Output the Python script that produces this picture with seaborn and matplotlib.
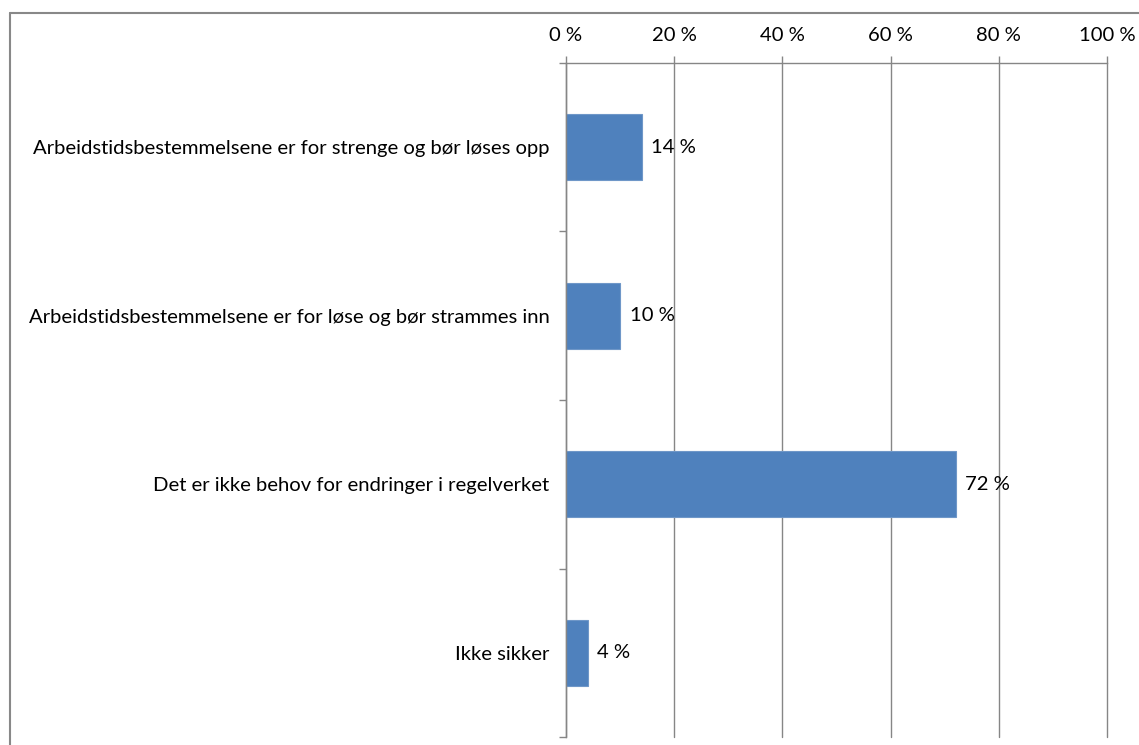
import matplotlib
matplotlib.use("Agg")
import matplotlib.pyplot as plt
import seaborn as sns
import pandas as pd
from matplotlib.lines import Line2D
from matplotlib.ticker import FixedLocator

categories = [
    "Arbeidstidsbestemmelsene er for strenge og bør løses opp",
    "Arbeidstidsbestemmelsene er for løse og bør strammes inn",
    "Det er ikke behov for endringer i regelverket",
    "Ikke sikker",
]
values = [14, 10, 72, 4]
xticks = [0, 20, 40, 60, 80, 100]
xticklabels = ["0 %", "20 %", "40 %", "60 %", "80 %", "100 %"]

sns.set_theme(style="white")
plt.rcParams['font.family'] = ['Lato', 'DejaVu Sans']
FS = 14.6

df = pd.DataFrame({"cat": categories, "val": values})

fig = plt.figure(figsize=(11.39, 7.45), dpi=100)
ax = fig.add_axes([566/1139, 1-737/745, (1107-566)/1139, (737-63)/745])

sns.barplot(data=df, y="cat", x="val", orient="h", color="#4F81BD",
            width=0.39, saturation=1, edgecolor="#6f97c8", linewidth=0.8, ax=ax)

ax.set_xlim(0, 100)
ax.set_ylim(3.5, -0.5)
ax.set_xlabel("")
ax.set_ylabel("")
ax.xaxis.tick_top()
ax.set_xticks(xticks)
ax.set_xticklabels(xticklabels, fontsize=FS, color="#000000")
ax.tick_params(axis="x", which="major", direction="out", length=5, width=1,
               color="#868686", pad=9, top=True, bottom=False)
ax.yaxis.set_minor_locator(FixedLocator([-0.5, 0.5, 1.5, 2.5, 3.5]))
ax.tick_params(axis="y", which="major", length=0, pad=12, labelsize=FS, labelcolor="#000000")
ax.tick_params(axis="y", which="minor", direction="out", length=5, width=1, color="#868686", left=True)
ax.grid(axis="x", color="#868686", linewidth=1)
for gl in ax.get_xgridlines():
    gl.set_clip_on(False)
ax.set_axisbelow(True)
for s in ["right", "bottom"]:
    ax.spines[s].set_visible(False)
for s in ["top", "left"]:
    ax.spines[s].set_visible(True)
    ax.spines[s].set_color("#868686")
    ax.spines[s].set_linewidth(1)

for c in ax.containers:
    ax.bar_label(c, labels=[f"{v} %" for v in values], padding=7, fontsize=FS, color="#000000")

# figure border (left and top)
fig.add_artist(Line2D([10/1139, 10/1139], [0, 1-13/745], transform=fig.transFigure, color="#888888", linewidth=1.5))
fig.add_artist(Line2D([10/1139, 1], [1-13/745, 1-13/745], transform=fig.transFigure, color="#888888", linewidth=1.5))

fig.savefig("out.png", dpi=100, facecolor="white")
